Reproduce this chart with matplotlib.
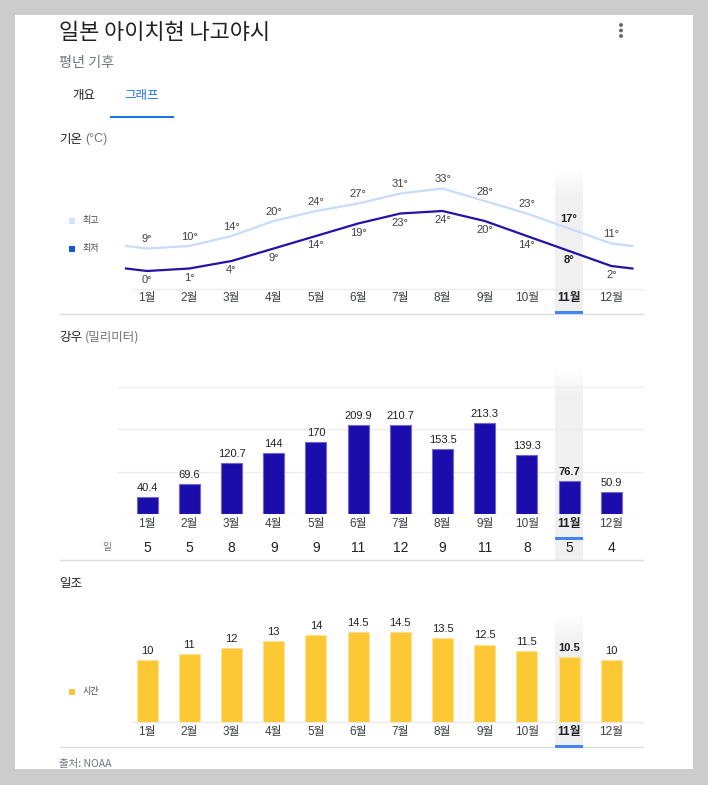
import numpy as np
import matplotlib
matplotlib.use("Agg")
import matplotlib.pyplot as plt
from matplotlib.patches import Rectangle, Circle

# ---------------- data ----------------
months = ["1월", "2월", "3월", "4월", "5월", "6월", "7월", "8월", "9월", "10월", "11월", "12월"]
temp_high = [9, 10, 14, 20, 24, 27, 31, 33, 28, 23, 17, 11]
temp_low = [0, 1, 4, 9, 14, 19, 23, 24, 20, 14, 8, 2]
rain_mm = [40.4, 69.6, 120.7, 144, 170, 209.9, 210.7, 153.5, 213.3, 139.3, 76.7, 50.9]
rain_days = [5, 5, 8, 9, 9, 11, 12, 9, 11, 8, 5, 4]
sun_hours = [10, 11, 12, 13, 14, 14.5, 14.5, 13.5, 12.5, 11.5, 10.5, 10]
rain_grid = [100, 200, 300]
highlight_month = "11월"

# ---------------- style ----------------
W, H = 708, 785
DPI = 100
FONT = ["Liberation Sans", "Noto Sans CJK KR", "DejaVu Sans"]
KFONT = ["Noto Sans CJK KR", "DejaVu Sans"]
plt.rcParams["font.family"] = FONT

C_TITLE = "#202124"
C_GREY = "#70757a"
C_LABEL = "#3c4043"
C_BLUE_TAB = "#1a73e8"
C_SEP = "#dadce0"
C_GRID = "#eeeeee"
C_HIGH = "#c9dbfa"
C_LOW = "#2213a8"
C_BAR = "#1a0dab"
C_BAR_EDGE = "#7267cf"
C_SUN = "#fcc934"
C_SUN_EDGE = "#fde293"
C_HL = (0.945, 0.945, 0.945)
C_UNDER = "#4285f4"

fig = plt.figure(figsize=(W / DPI, H / DPI), dpi=DPI)
fig.patch.set_facecolor("#cccccc")

# overlay axes in pixel coordinates
ov = fig.add_axes([0, 0, 1, 1])
ov.set_xlim(0, W)
ov.set_ylim(H, 0)
ov.axis("off")
ov.set_zorder(0)
ov.add_patch(Rectangle((15, 15), 678, 754, facecolor="white", edgecolor="none", zorder=0))

# chart horizontal mapping
PX_L, PX_R = 118, 644
M1_PX, PITCH = 147.1, 42.2
XLO = 1 + (PX_L - M1_PX) / PITCH
XHI = 1 + (PX_R - M1_PX) / PITCH
xs = np.arange(1, len(months) + 1)
hl_idx = months.index(highlight_month)


def mx(m):
    return M1_PX + (m - 1) * PITCH


def add_ax(top, bottom):
    a = fig.add_axes([PX_L / W, 1 - bottom / H, (PX_R - PX_L) / W, (bottom - top) / H])
    a.set_xlim(XLO, XHI)
    a.set_facecolor("none")
    a.set_zorder(2)
    for s in a.spines.values():
        s.set_visible(False)
    a.set_xticks([])
    a.set_yticks([])
    return a


def highlight(top, bottom, under_y):
    cx = mx(xs[hl_idx])
    x0, x1 = cx - 14, cx + 14
    n = int(bottom - top)
    yy = np.arange(n)
    alpha = np.clip(yy / 32.0, 0, 1)
    img = np.zeros((n, 1, 4))
    img[:, 0, 0], img[:, 0, 1], img[:, 0, 2] = C_HL
    img[:, 0, 3] = alpha
    ov.imshow(img, extent=(x0, x1, bottom, top), aspect="auto", interpolation="bilinear", zorder=1)
    ov.add_patch(Rectangle((x0, under_y - 1.5), 28, 3, facecolor=C_UNDER, edgecolor="none", zorder=3))


def hline(y, x0, x1, color):
    ov.plot([x0, x1], [y, y], color=color, lw=1, solid_capstyle="butt", zorder=2)


def month_labels(y):
    for i, m in enumerate(months):
        bold = i == hl_idx
        ov.text(mx(xs[i]), y, m, ha="center", va="center", fontsize=8.5,
                color="#202124" if bold else C_LABEL, fontweight="bold" if bold else "normal",
                family=FONT, zorder=5)


# ---------------- header ----------------
ov.text(59, 33, "일본 아이치현 나고야시", fontsize=15.8, color=C_TITLE, va="center", ha="left", family=KFONT)
ov.text(59, 63, "평년 기후", fontsize=10.2, color=C_GREY, va="center", ha="left", family=KFONT)
ov.text(84, 95, "개요", fontsize=9, color=C_TITLE, va="center", ha="center", family=KFONT)
ov.text(142, 95, "그래프", fontsize=9, color=C_BLUE_TAB, va="center", ha="center", family=KFONT)
ov.add_patch(Rectangle((110, 116), 64, 2, facecolor=C_BLUE_TAB, edgecolor="none", zorder=2))
for yy in (25, 30.5, 36):
    ov.add_patch(Circle((621, yy), 1.9, facecolor="#5f6368", edgecolor="none", zorder=2))

# ---------------- temperature ----------------
ov.text(59, 139, "기온", fontsize=9, color=C_TITLE, va="center", ha="left", family=KFONT)
ov.text(85, 139, "(°C)", fontsize=9, color=C_GREY, va="center", ha="left", family=FONT)
highlight(168, 314, 312.5)
hline(289, 132, 644, "#ebebeb")
hline(314, 59, 644, C_SEP)
month_labels(298)

# legend
ov.add_patch(Rectangle((69, 218), 6, 6, facecolor="#d2e3fc", edgecolor="none"))
ov.text(83, 220.5, "최고", fontsize=6.5, color="#444444", va="center", ha="left", family=KFONT)
ov.add_patch(Rectangle((69, 246), 6, 6, facecolor="#1558d6", edgecolor="none"))
ov.text(83, 248.5, "최저", fontsize=6.5, color="#444444", va="center", ha="left", family=KFONT)

axT = add_ax(160, 289)
# y_px = 271 - 2.5*T  -> bottom 289 = -7.2, top 160 = 44.4
axT.set_ylim(-7.2, 44.4)
xe = np.concatenate([[0.5], xs, [12.5]])
hi_e = np.concatenate([[(temp_high[0] + temp_high[-1]) / 2], temp_high, [(temp_high[0] + temp_high[-1]) / 2]])
lo_e = np.concatenate([[(temp_low[0] + temp_low[-1]) / 2], temp_low, [(temp_low[0] + temp_low[-1]) / 2]])
axT.plot(xe, hi_e, color=C_HIGH, lw=1.6, solid_joinstyle="round", zorder=3)
axT.plot(xe, lo_e, color=C_LOW, lw=1.6, solid_joinstyle="round", zorder=4)
for i in range(len(months)):
    bold = i == hl_idx
    kw = dict(ha="center", va="center", fontsize=8, color="#202124" if bold else C_LABEL,
              fontweight="bold" if bold else "normal", textcoords="offset points", zorder=6)
    axT.annotate(f"{temp_high[i]}°", (xs[i], temp_high[i]), xytext=(0, 6.8), **kw)
    axT.annotate(f"{temp_low[i]}°", (xs[i], temp_low[i]), xytext=(0, -6.5), **kw)

# ---------------- precipitation ----------------
ov.text(59, 337, "강우", fontsize=9, color=C_TITLE, va="center", ha="left", family=KFONT)
ov.text(85, 337, "(밀리미터)", fontsize=9, color=C_GREY, va="center", ha="left", family=KFONT)
highlight(367, 560, 538)
hline(560, 59, 644, C_SEP)
month_labels(524)
ov.text(107, 547, "일", fontsize=7, color=C_GREY, va="center", ha="center", family=KFONT)
for i, d in enumerate(rain_days):
    ov.text(mx(xs[i]), 548, str(d), fontsize=10, color="#202124", va="center", ha="center", zorder=5)

axR = add_ax(360, 514)
axR.set_ylim(0, 154 / 0.4245)
for g in rain_grid:
    axR.axhline(g, color=C_GRID, lw=1, zorder=1)
axR.axhline(0, color="#e6e6e6", lw=1, zorder=1)
axR.bar(xs, rain_mm, width=0.5, color=C_BAR, edgecolor=C_BAR_EDGE, linewidth=0.8, zorder=3)
for i, v in enumerate(rain_mm):
    bold = i == hl_idx
    axR.annotate(f"{v:g}", (xs[i], v), xytext=(0, 6.5), textcoords="offset points",
                 ha="center", va="center", fontsize=8, color="#202124",
                 fontweight="bold" if bold else "normal", zorder=6)

# ---------------- sunshine ----------------
ov.text(59, 583, "일조", fontsize=9, color=C_TITLE, va="center", ha="left", family=KFONT)
highlight(613, 747, 746)
hline(747, 59, 644, C_SEP)
hline(722, 132, 644, "#ebebeb")
month_labels(732)
ov.add_patch(Rectangle((69, 689), 6, 6, facecolor=C_SUN, edgecolor="none"))
ov.text(83, 691.5, "시간", fontsize=6.5, color="#444444", va="center", ha="left", family=KFONT)

axS = add_ax(600, 722)
axS.set_ylim(0, 122 / 6.2)
axS.bar(xs, sun_hours, width=0.5, color=C_SUN, edgecolor=C_SUN_EDGE, linewidth=0.8, zorder=3)
for i, v in enumerate(sun_hours):
    bold = i == hl_idx
    axS.annotate(f"{v:g}", (xs[i], v), xytext=(0, 6.5), textcoords="offset points",
                 ha="center", va="center", fontsize=8, color="#202124",
                 fontweight="bold" if bold else "normal", zorder=6)

ov.text(59, 764, "출처: NOAA", fontsize=7.5, color=C_GREY, va="center", ha="left", family=KFONT)

fig.savefig("out.png", dpi=DPI, facecolor=fig.get_facecolor())
